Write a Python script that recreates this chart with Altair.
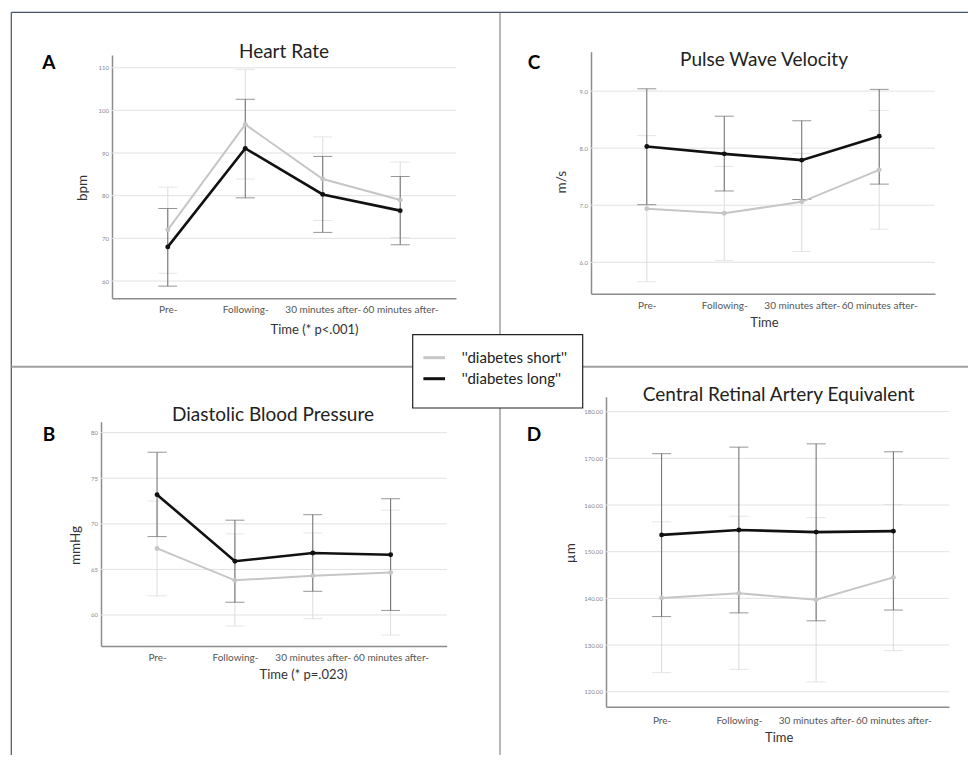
import altair as alt
import pandas as pd

times = ["Pre-", "Following-", "30 minutes after-", "60 minutes after-"]
groups = ["''diabetes short''", "''diabetes long''"]

# A  Heart Rate (bpm)
hr_short = [72.0, 96.7, 83.9, 79.0]
hr_short_lo = [61.8, 83.9, 74.2, 70.2]
hr_short_hi = [82.0, 109.6, 93.8, 87.9]
hr_long = [68.0, 91.1, 80.3, 76.5]
hr_long_lo = [58.8, 79.5, 71.4, 68.5]
hr_long_hi = [77.0, 102.6, 89.2, 84.5]
hr_ticks = [60, 70, 80, 90, 100, 110]

# B  Diastolic Blood Pressure (mmHg)
dbp_short = [67.3, 63.8, 64.3, 64.65]
dbp_short_lo = [62.1, 58.8, 59.6, 57.8]
dbp_short_hi = [72.5, 68.9, 69.0, 71.5]
dbp_long = [73.2, 65.9, 66.8, 66.6]
dbp_long_lo = [68.6, 61.4, 62.6, 60.5]
dbp_long_hi = [77.85, 70.4, 71.0, 72.75]
dbp_ticks = [60, 65, 70, 75, 80]

# C  Pulse Wave Velocity (m/s)
pwv_short = [6.94, 6.86, 7.06, 7.62]
pwv_short_lo = [5.66, 6.03, 6.19, 6.58]
pwv_short_hi = [8.22, 7.68, 7.91, 8.66]
pwv_long = [8.03, 7.90, 7.79, 8.21]
pwv_long_lo = [7.01, 7.25, 7.10, 7.37]
pwv_long_hi = [9.04, 8.56, 8.48, 9.03]
pwv_ticks = [6.0, 7.0, 8.0, 9.0]

# D  Central Retinal Artery Equivalent (µm)
crae_short = [140.1, 141.1, 139.7, 144.5]
crae_short_lo = [124.1, 124.8, 122.1, 128.8]
crae_short_hi = [156.4, 157.6, 157.3, 160.1]
crae_long = [153.6, 154.65, 154.2, 154.4]
crae_long_lo = [136.1, 136.9, 135.2, 137.5]
crae_long_hi = [171.0, 172.4, 173.1, 171.4]
crae_ticks = [120, 130, 140, 150, 160, 170, 180]

W, H = 960, 747
FONT = "Lato"
LINE_C = ["#c6c6c6", "#111111"]
ERR_C = ["#dcdcdc", "#6a6a6a"]
LINE_W = [2.0, 2.6]

cscale = alt.Scale(domain=groups, range=LINE_C)
legend = alt.Legend(
    orient="none", legendX=413.7, legendY=337.2, title=None,
    symbolType="stroke", symbolSize=467, symbolStrokeWidth=3,
    labelFontSize=15, labelFont=FONT, labelColor="#222", labelOffset=15,
    rowPadding=0, padding=0, zindex=1,
)


def make_panel(ms, los, his, ml, lol, hil, ticks, dom, xr, yr, fmt,
               ytitle, ytx, yty, xtitle, xtx, xty, lpad):
    df = pd.DataFrame({
        "time": times * 2,
        "group": [groups[0]] * 4 + [groups[1]] * 4,
        "mean": ms + ml,
        "lo": los + lol,
        "hi": his + hil,
    })
    xscale = alt.Scale(type="point", domain=times, range=xr, padding=0.72)
    yscale = alt.Scale(domain=dom, range=yr, nice=False, zero=False)
    xaxis = alt.Axis(
        orient="bottom", offset=yr[0] - H, grid=False, ticks=False,
        domainColor="#8c8c8c", domainWidth=1.5, labelAngle=0,
        labelFontSize=10, labelColor="#555", labelPadding=lpad,
        labelOverlap=False, labelFont=FONT,
        title=xtitle, titleX=xtx, titleY=xty, titleFontSize=13,
        titleFontWeight="normal", titleColor="#333", titleAlign="center",
        titleBaseline="middle", titleFont=FONT,
    )
    yaxis = alt.Axis(
        orient="left", offset=-xr[0], values=ticks, format=fmt, grid=False,
        ticks=False, domainColor="#8c8c8c", domainWidth=1.5,
        labelFontSize=6, labelColor="#888", labelPadding=3.5,
        labelOverlap=False, labelFont=FONT,
        title=ytitle, titleX=ytx, titleY=yty, titleFontSize=13.5,
        titleFontWeight="normal", titleColor="#333", titleAlign="center",
        titleBaseline="middle", titleAngle=270, titleFont=FONT,
    )
    X = alt.X("time:N", scale=xscale, axis=xaxis, sort=times)

    def Y(f):
        return alt.Y(f, scale=yscale, axis=yaxis)

    layers = [
        alt.Chart(pd.DataFrame({"v": ticks})).mark_rule(
            color="#e2e2e2", strokeWidth=1
        ).encode(y=Y("v:Q"), x=alt.value(xr[0]), x2=alt.value(xr[1]))
    ]
    base = alt.Chart(df)
    for i, g in enumerate(groups):
        b = base.transform_filter(alt.datum.group == g)
        layers.append(b.mark_rule(color=ERR_C[i], strokeWidth=1).encode(
            x=X, y=Y("lo:Q"), y2="hi:Q"))
        layers.append(b.mark_tick(color=ERR_C[i], size=19, thickness=1).encode(
            x=X, y=Y("lo:Q")))
        layers.append(b.mark_tick(color=ERR_C[i], size=19, thickness=1).encode(
            x=X, y=Y("hi:Q")))
    for i, g in enumerate(groups):
        b = base.transform_filter(alt.datum.group == g)
        layers.append(b.mark_line(strokeWidth=LINE_W[i]).encode(
            x=X, y=Y("mean:Q"),
            color=alt.Color("group:N", scale=cscale, legend=legend)))
    for i, g in enumerate(groups):
        b = base.transform_filter(alt.datum.group == g)
        layers.append(b.mark_circle(size=24, opacity=1, color=LINE_C[i]).encode(
            x=X, y=Y("mean:Q")))
    return alt.layer(*layers)


pA = make_panel(hr_short, hr_short_lo, hr_short_hi, hr_long, hr_long_lo, hr_long_hi,
                hr_ticks, [55.95, 112.98], [104, 448], [290.3, 47], "d",
                "bpm", -30, 179.5, "Time (* p<.001)", 306, 30.7, 6)
pB = make_panel(dbp_short, dbp_short_lo, dbp_short_hi, dbp_long, dbp_long_lo, dbp_long_hi,
                dbp_ticks, [56.6, 81.2], [93, 438.7], [638, 413.7], "d",
                "mmHg", -26, 537, "Time (* p=.023)", 295, 28, 6.5)
pC = make_panel(pwv_short, pwv_short_lo, pwv_short_hi, pwv_long, pwv_long_lo, pwv_long_hi,
                pwv_ticks, [5.45, 9.69], [583, 927], [285.7, 43.7], ".1f",
                "m/s", -29.3, 173.7, "Time", 756, 28.6, 7)
pD = make_panel(crae_short, crae_short_lo, crae_short_hi, crae_long, crae_long_lo, crae_long_hi,
                crae_ticks, [116.8, 183.2], [598, 941], [698.7, 388.7], ".2f",
                "µm", -35.3, 544.7, "Time", 770.7, 31, 9)

one = alt.Data(values=[{}])


def rule(x, x2, y, y2, color, w):
    return alt.Chart(one).mark_rule(color=color, strokeWidth=w).encode(
        x=alt.value(x), x2=alt.value(x2), y=alt.value(y), y2=alt.value(y2))


def label(txt, x, y, size, weight="normal", color="#222"):
    return alt.Chart(one).mark_text(
        fontSize=size, fontWeight=weight, color=color, font=FONT,
        align="center", baseline="middle",
    ).encode(x=alt.value(x), y=alt.value(y), text=alt.value(txt))


decor = [
    rule(3.3, W, 4.3, 4.3, "#44546a", 1.2),
    rule(3.3, 3.3, 4.3, H, "#44546a", 1.2),
    rule(492, 492, 4.3, H, "#6e6e6e", 1),
    rule(3.3, W, 358.7, 358.7, "#a0a0a0", 2),
]
titles = [
    label("Heart Rate", 276, 44, 19),
    label("Diastolic Blood Pressure", 265, 407, 19),
    label("Pulse Wave Velocity", 756, 52, 19),
    label("Central Retinal Artery Equivalent", 770.7, 387, 19),
    label("A", 40.8, 55.3, 19, "bold", "#000"),
    label("B", 41, 427, 19, "bold", "#000"),
    label("C", 526, 54.5, 19, "bold", "#000"),
    label("D", 526, 427, 19, "bold", "#000"),
]
legend_box = alt.Chart(one).mark_rect(
    fill="white", stroke="#222", strokeWidth=1.2
).encode(x=alt.value(404.7), x2=alt.value(574.7), y=alt.value(326.7), y2=alt.value(400))

chart = alt.layer(
    *decor, pA, pB, pC, pD, legend_box, *titles
).resolve_scale(
    x="independent", y="independent"
).properties(
    width=W, height=H, autosize=alt.AutoSizeParams(type="none"), padding=0,
    background="white",
).configure_view(stroke=None)

chart.save("out.html", embed_options={"renderer": "svg", "actions": False})
